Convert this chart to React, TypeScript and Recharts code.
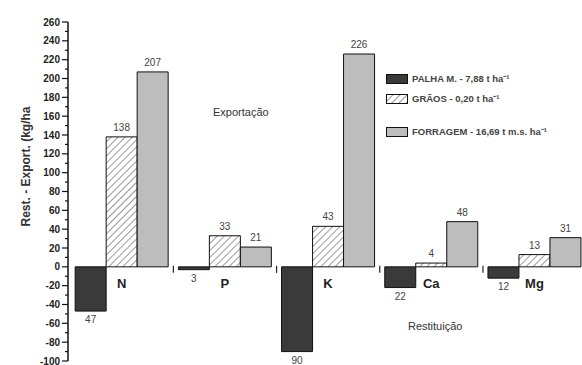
import React from "react"
import { BarChart, Bar, XAxis, YAxis, LabelList, Legend } from "recharts"

const nutrients = ["N", "P", "K", "Ca", "Mg"]
const palha = [-47, -3, -90, -22, -12]
const graos = [138, 33, 43, 4, 13]
const forragem = [207, 21, 226, 48, 31]
const yTicks = [-100, -90, -80, -70, -60, -50, -40, -30, -20, -10, 0, 10, 20, 30, 40, 50, 60, 70, 80, 90, 100, 110, 120, 130, 140, 150, 160, 170, 180, 190, 200, 210, 220, 230, 240, 250, 260]

const legendItems = [
  { key: "palha", label: "PALHA M. - 7,88 t ha⁻¹" },
  { key: "graos", label: "GRÃOS - 0,20 t ha⁻¹" },
  { key: "forragem", label: "FORRAGEM - 16,69 t m.s. ha⁻¹" },
]

const data = nutrients.map((name, i) => ({
  name,
  palha: palha[i],
  graos: graos[i],
  forragem: forragem[i],
}))

const FONT = "'Liberation Sans', Arial, sans-serif"
const DARK = "#3a3a3a"
const GREY = "#bdbdbd"
const EDGE = "#111"

const YTick = (props: any) => {
  const { x, y, payload } = props
  const v = payload.value
  const major = v % 20 === 0
  return (
    <g>
      <line x1={x + 8} x2={x + 8 - (major ? 6 : 3)} y1={y} y2={y} stroke="#111" strokeWidth={1.2} />
      {major && (
        <text x={x} y={y + 3.5} textAnchor="end" fontSize={10} fontWeight="bold" fill="#222" fontFamily={FONT}>
          {v}
        </text>
      )}
    </g>
  )
}

const valueLabel = (props: any) => {
  const { x, y, width, height, value } = props
  const top = Math.min(y, y + height)
  const bottom = Math.max(y, y + height)
  const neg = value < 0
  return (
    <text
      x={x + width / 2}
      y={neg ? bottom + 12 : top - 6}
      textAnchor="middle"
      fontSize={10}
      fill="#444"
      fontFamily={FONT}
    >
      {Math.abs(value)}
    </text>
  )
}

const categoryLabel = (props: any) => {
  const { x, y, width, height, value } = props
  const bottom = Math.max(y, y + height)
  return (
    <text x={x + width / 2} y={bottom + 21} textAnchor="middle" fontSize={13} fontWeight="bold" fill="#222" fontFamily={FONT}>
      {value}
    </text>
  )
}

const bandTick = (props: any) => {
  const { x, y, height, index } = props
  if (index === 0) return null
  const zero = Math.min(y, y + height)
  return <line x1={x - 5} x2={x - 5} y1={zero - 1} y2={zero + 6} stroke="#222" strokeWidth={1.2} />
}

const Swatch = ({ kind }: { kind: string }) => (
  <svg width={22} height={10} style={{ display: "block" }}>
    <defs>
      <pattern id="hatchLegend" width={5} height={5} patternUnits="userSpaceOnUse" patternTransform="rotate(45)">
        <rect width={5} height={5} fill="#fff" />
        <line x1={0} y1={0} x2={0} y2={5} stroke="#333" strokeWidth={1} />
      </pattern>
    </defs>
    <rect
      x={0.5}
      y={0.5}
      width={21}
      height={9}
      fill={kind === "palha" ? DARK : kind === "graos" ? "url(#hatchLegend)" : GREY}
      stroke={EDGE}
      strokeWidth={1}
    />
  </svg>
)

const renderLegend = () => (
  <div style={{ fontFamily: FONT, fontSize: 9.5, color: "#444", fontWeight: "bold" }}>
    {legendItems.map((item, i) => (
      <div
        key={item.key}
        style={{ display: "flex", alignItems: "center", gap: 4, marginBottom: i === 1 ? 20 : 7, whiteSpace: "nowrap" }}
      >
        <Swatch kind={item.key} />
        <span>{item.label}</span>
      </div>
    ))}
  </div>
)

export default function App() {
  return (
    <div style={{ position: "absolute", left: 0, top: 0, width: 582, height: 365, overflow: "hidden", background: "#fff" }}>
      <BarChart
        width={586}
        height={365}
        data={data}
        margin={{ top: 22, right: 0, bottom: 4, left: 8 }}
        barCategoryGap="5%"
        barGap={0}
      >
        <defs>
          <pattern id="hatch" width={5} height={5} patternUnits="userSpaceOnUse" patternTransform="rotate(45)">
            <rect width={5} height={5} fill="#fff" />
            <line x1={0} y1={0} x2={0} y2={5} stroke="#333" strokeWidth={1} />
          </pattern>
        </defs>
        <XAxis dataKey="name" hide padding={{ left: 2, right: 0 }} />
        <YAxis
          width={60}
          domain={[-100, 260]}
          ticks={yTicks}
          interval={0}
          axisLine={{ stroke: "#111", strokeWidth: 1.5 }}
          tickLine={false}
          tick={<YTick />}
          label={{
            value: "Rest. - Export. (kg/ha",
            angle: -90,
            position: "insideLeft",
            offset: 18,
            dy: -25,
            style: { fontFamily: FONT, fontSize: 12, fontWeight: "bold", fill: "#333", textAnchor: "middle" },
          }}
        />
        <Legend
          verticalAlign="middle"
          align="center"
          layout="horizontal"
          content={renderLegend}
          wrapperStyle={{ position: "absolute", left: 386, top: 72, width: 200 }}
        />
        <Bar dataKey="palha" fill={DARK} stroke={EDGE} strokeWidth={1} isAnimationActive={false}>
          <LabelList dataKey="palha" content={valueLabel} />
          <LabelList dataKey="palha" content={bandTick} />
        </Bar>
        <Bar dataKey="graos" fill="url(#hatch)" stroke={EDGE} strokeWidth={1} isAnimationActive={false}>
          <LabelList dataKey="graos" content={valueLabel} />
          <LabelList dataKey="name" content={categoryLabel} />
        </Bar>
        <Bar dataKey="forragem" fill={GREY} stroke={EDGE} strokeWidth={1} isAnimationActive={false}>
          <LabelList dataKey="forragem" content={valueLabel} />
        </Bar>
      </BarChart>
      <div style={{ position: "absolute", left: 213, top: 106, fontFamily: FONT, fontSize: 11, color: "#333" }}>Exportação</div>
      <div style={{ position: "absolute", left: 408, top: 320, fontFamily: FONT, fontSize: 11, color: "#333" }}>Restituição</div>
    </div>
  )
}
